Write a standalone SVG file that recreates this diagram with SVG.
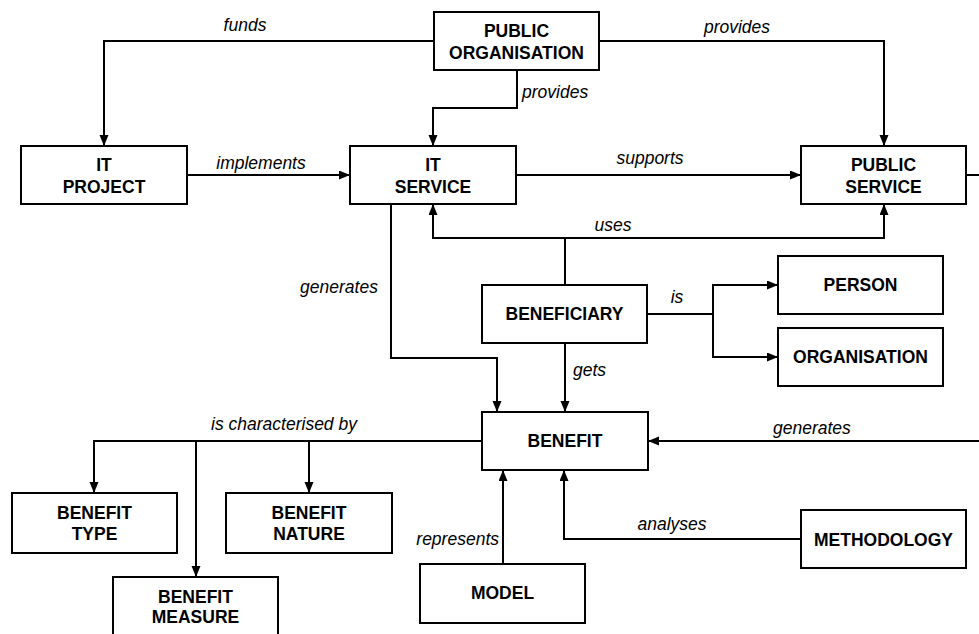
<svg xmlns="http://www.w3.org/2000/svg" width="979" height="634" viewBox="0 0 979 634">
<style>
.box{fill:#fff;stroke:#000;stroke-width:2}
.nt{font-family:"Liberation Sans",Arial,sans-serif;font-weight:bold;font-size:17.5px;text-anchor:middle;fill:#000}
.lb{font-family:"Liberation Sans",Arial,sans-serif;font-style:italic;font-size:17.5px;fill:#000}
.c{fill:none;stroke:#000;stroke-width:2}
</style>
<defs>
<marker id="ah" markerUnits="userSpaceOnUse" markerWidth="12" markerHeight="10" refX="11" refY="4.5" orient="auto">
<path d="M0,0 L11,4.5 L0,9 z" fill="#000"/>
</marker>
</defs>
<rect width="979" height="634" fill="#fff"/>
<g id="connectors">
<path class="c" d="M434,41 H104 V146" marker-end="url(#ah)"/>
<path class="c" d="M599,41 H884 V146" marker-end="url(#ah)"/>
<path class="c" d="M517,70 V108 H433 V146" marker-end="url(#ah)"/>
<path class="c" d="M187,175 H350" marker-end="url(#ah)"/>
<path class="c" d="M516,175 H801" marker-end="url(#ah)"/>
<path class="c" d="M966,175 H979"/>
<path class="c" d="M565,285 V238"/>
<path class="c" d="M565,238 H433 V204" marker-end="url(#ah)"/>
<path class="c" d="M565,238 H884 V204" marker-end="url(#ah)"/>
<path class="c" d="M391,204 V358 H497 V412" marker-end="url(#ah)"/>
<path class="c" d="M565,343 V412" marker-end="url(#ah)"/>
<path class="c" d="M647,314 H713"/>
<path class="c" d="M713,314 V285 H778" marker-end="url(#ah)"/>
<path class="c" d="M713,314 V357 H778" marker-end="url(#ah)"/>
<path class="c" d="M979,441 H648" marker-end="url(#ah)"/>
<path class="c" d="M482,441 H94 V493" marker-end="url(#ah)"/>
<path class="c" d="M196,441 V577" marker-end="url(#ah)"/>
<path class="c" d="M309,441 V493" marker-end="url(#ah)"/>
<path class="c" d="M503,564 V470" marker-end="url(#ah)"/>
<path class="c" d="M801,539 H564 V470" marker-end="url(#ah)"/>
<text class="lb" x="245" y="31" text-anchor="middle">funds</text>
<text class="lb" x="737" y="33" text-anchor="middle">provides</text>
<text class="lb" x="522" y="98">provides</text>
<text class="lb" x="261" y="169" text-anchor="middle">implements</text>
<text class="lb" x="650" y="164" text-anchor="middle">supports</text>
<text class="lb" x="613" y="231" text-anchor="middle">uses</text>
<text class="lb" x="339" y="293" text-anchor="middle">generates</text>
<text class="lb" x="677" y="303" text-anchor="middle">is</text>
<text class="lb" x="573" y="376">gets</text>
<text class="lb" x="284" y="430" text-anchor="middle">is characterised by</text>
<text class="lb" x="773" y="434">generates</text>
<text class="lb" x="672" y="530" text-anchor="middle">analyses</text>
<text class="lb" x="499" y="545" text-anchor="end">represents</text>
</g>
<g id="public-organisation"><rect class="box" x="434" y="12" width="165" height="58"/><text class="nt" x="516.5" y="37">PUBLIC</text><text class="nt" x="516.5" y="59">ORGANISATION</text></g>
<g id="it-project"><rect class="box" x="21" y="146" width="166" height="58"/><text class="nt" x="104" y="171">IT</text><text class="nt" x="104" y="193">PROJECT</text></g>
<g id="it-service"><rect class="box" x="350" y="146" width="166" height="58"/><text class="nt" x="433" y="171">IT</text><text class="nt" x="433" y="193">SERVICE</text></g>
<g id="public-service"><rect class="box" x="801" y="146" width="165" height="58"/><text class="nt" x="883.5" y="171">PUBLIC</text><text class="nt" x="883.5" y="193">SERVICE</text></g>
<g id="beneficiary"><rect class="box" x="482" y="285" width="165" height="58"/><text class="nt" x="564.5" y="320">BENEFICIARY</text></g>
<g id="person"><rect class="box" x="778" y="256" width="165" height="58"/><text class="nt" x="860.5" y="291">PERSON</text></g>
<g id="organisation"><rect class="box" x="778" y="328" width="165" height="58"/><text class="nt" x="860.5" y="363">ORGANISATION</text></g>
<g id="benefit"><rect class="box" x="482" y="412" width="166" height="58"/><text class="nt" x="565" y="447">BENEFIT</text></g>
<g id="benefit-type"><rect class="box" x="12" y="493" width="165" height="60"/><text class="nt" x="94.5" y="519">BENEFIT</text><text class="nt" x="94.5" y="540">TYPE</text></g>
<g id="benefit-nature"><rect class="box" x="226" y="493" width="166" height="60"/><text class="nt" x="309" y="519">BENEFIT</text><text class="nt" x="309" y="540">NATURE</text></g>
<g id="benefit-measure"><rect class="box" x="113" y="577" width="165" height="60"/><text class="nt" x="195.5" y="603">BENEFIT</text><text class="nt" x="195.5" y="623">MEASURE</text></g>
<g id="model"><rect class="box" x="420" y="564" width="165" height="59"/><text class="nt" x="502.5" y="599">MODEL</text></g>
<g id="methodology"><rect class="box" x="801" y="510" width="165" height="58"/><text class="nt" x="883.5" y="546">METHODOLOGY</text></g>
</svg>
